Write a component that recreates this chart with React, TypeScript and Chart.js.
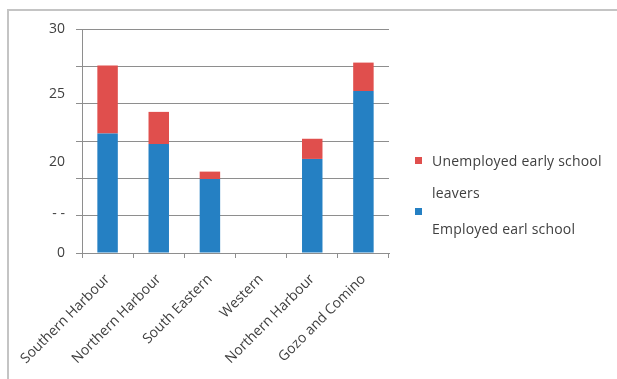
import React, { useEffect, useRef } from "react";
import { Chart, registerables } from "chart.js";

Chart.register(...registerables);

const categories = [
  "Southern Harbour",
  "Northern Harbour",
  "South Eastern",
  "Western",
  "Northern Harbour",
  "Gozo and Comino",
];
const employed = [16.0, 14.6, 9.9, 0, 12.6, 21.7];
const unemployed = [9.1, 4.3, 1.0, 0, 2.7, 3.8];
const gridValues = [0, 5, 10, 15, 20, 25, 30];
const yLabelValues = [0, 5.25, 12.2, 21.3, 30];
const yLabelTexts = ["0", "- -", "20", "25", "30"];
const legendUnemployedLines = ["Unemployed early school", "leavers"];
const legendEmployedLines = ["Employed earl school"];

const RED = "#e04f4d";
const BLUE = "#2580c3";
const GRID = "#8e8e8e";
const TEXT = "#404040";
const FONT = "'Open Sans', sans-serif";

export default function App() {
  const ref = useRef<HTMLCanvasElement | null>(null);

  useEffect(() => {
    if (!ref.current) return;
    const chart = new Chart(ref.current, {
      type: "bar",
      data: {
        labels: categories,
        datasets: [
          {
            label: legendEmployedLines.join(" "),
            data: employed,
            backgroundColor: BLUE,
            barPercentage: 0.4,
            categoryPercentage: 1,
          },
          {
            label: legendUnemployedLines.join(" "),
            data: unemployed,
            backgroundColor: RED,
            barPercentage: 0.4,
            categoryPercentage: 1,
          },
        ],
      },
      options: {
        responsive: false,
        animation: false,
        layout: { padding: { left: 0, right: 228, top: 29, bottom: 0 } },
        plugins: { legend: { display: false }, tooltip: { enabled: false } },
        scales: {
          x: {
            stacked: true,
            offset: true,
            grid: {
              display: true,
              drawOnChartArea: false,
              tickLength: 5,
              color: GRID,
            },
            border: { color: GRID },
            ticks: {
              minRotation: 45,
              maxRotation: 45,
              autoSkip: false,
              padding: 13,
              color: TEXT,
              font: { family: FONT, size: 14 },
            },
            afterFit: (s: any) => {
              s.height = 126;
            },
          },
          y: {
            stacked: true,
            position: "left",
            weight: 0,
            min: 0,
            max: 30,
            afterBuildTicks: (s: any) => {
              s.ticks = gridValues.map((v) => ({ value: v }));
            },
            ticks: { display: false },
            grid: { color: GRID, tickLength: 6 },
            border: { color: GRID },
            afterFit: (s: any) => {
              s.width = 6;
            },
          },
          y2: {
            position: "left",
            weight: 1,
            min: 0,
            max: 30,
            afterBuildTicks: (s: any) => {
              s.ticks = yLabelValues.map((v) => ({ value: v }));
            },
            ticks: {
              callback: (_v: any, i: number) => yLabelTexts[i],
              padding: 11,
              color: TEXT,
              font: { family: FONT, size: 14 },
            },
            grid: { display: false, drawTicks: false },
            border: { display: false },
            afterFit: (s: any) => {
              s.width = 76;
            },
          },
        },
      },
    });
    return () => chart.destroy();
  }, []);

  const legendText: React.CSSProperties = {
    position: "absolute",
    fontFamily: FONT,
    fontSize: 14,
    color: TEXT,
    lineHeight: "16px",
    whiteSpace: "nowrap",
    letterSpacing: "0.2px",
  };
  const square = (color: string, top: number): React.CSSProperties => ({
    position: "absolute",
    left: 415,
    top,
    width: 7,
    height: 7,
    background: color,
  });

  return (
    <div
      style={{
        position: "fixed",
        left: 0,
        top: 0,
        width: 617,
        height: 379,
        background: "#fff",
        overflow: "hidden",
      }}
    >
      <canvas ref={ref} width={617} height={379} style={{ position: "absolute", left: 0, top: 0 }} />
      <div
        style={{
          position: "absolute",
          left: 7,
          top: 9,
          width: 610,
          height: 370,
          borderTop: "2px solid #c4c4c4",
          borderLeft: "2px solid #c4c4c4",
          pointerEvents: "none",
        }}
      />
      <div style={square(RED, 157)} />
      <div style={{ ...legendText, left: 432, top: 153 }}>{legendUnemployedLines[0]}</div>
      <div style={{ ...legendText, left: 432, top: 185 }}>{legendUnemployedLines[1]}</div>
      <div style={square(BLUE, 208)} />
      <div style={{ ...legendText, left: 432, top: 221 }}>{legendEmployedLines[0]}</div>
    </div>
  );
}
